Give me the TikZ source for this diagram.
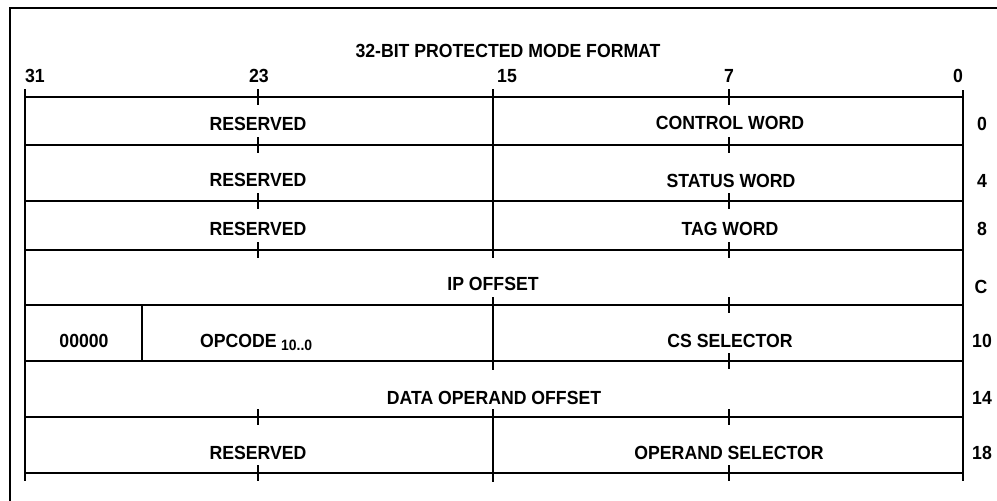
\documentclass[tikz,border=0pt]{standalone}
\usepackage{fontspec}
\setmainfont{Liberation Sans}[FakeStretch=0.93]
\begin{document}
\begin{tikzpicture}[x=1pt,y=-1pt,
  lbl/.style={font=\fontsize{19}{22}\selectfont\bfseries, inner sep=0pt, anchor=base},
  sublbl/.style={font=\fontsize{15}{18}\selectfont\bfseries, inner sep=0pt, anchor=base west},
  rule/.style={line width=2pt, line cap=rect},
  frame/.style={line width=2.6pt},
  mid/.style={line width=2.6pt},
  tick/.style={line width=2pt}]
\useasboundingbox (0,0) rectangle (997,501);
% outer frame
\coordinate (fbl) at (10,501);
\coordinate (ftl) at (10,8);
\coordinate (ftr) at (997,8);
\draw[frame] (fbl) -- (ftl) -- (ftr);
% horizontal rules
\foreach \n/\y in {r0/97,r1/145,r2/201,r3/250,r4/305,r5/361,r6/417,r7/473}{
  \coordinate (\n L) at (25,\y);
  \coordinate (\n R) at (963,\y);
  \draw[rule] (\n L) -- (\n R);
  \coordinate (\n a) at (258,\y-8);
  \coordinate (\n b) at (258,\y+8);
  \coordinate (\n c) at (729,\y-8);
  \coordinate (\n d) at (729,\y+8);
  \draw[tick] (\n c) -- (\n d);
}
\foreach \n in {r0,r1,r2,r3,r6,r7}{\draw[tick] (\n a) -- (\n b);}
% outer verticals of the table
\coordinate (lt) at (25,89); \coordinate (lb) at (25,481);
\coordinate (rt) at (963,90); \coordinate (rb) at (963,481);
\draw[mid] (lt) -- (lb);
\draw[mid] (rt) -- (rb);
% bit 15 divider
\coordinate (m0) at (493,89);  \coordinate (m1) at (493,258);
\coordinate (m2) at (493,297); \coordinate (m3) at (493,370);
\coordinate (m4) at (493,409); \coordinate (m5) at (493,482);
\draw[mid] (m0) -- (m1);
\draw[mid] (m2) -- (m3);
\draw[mid] (m4) -- (m5);
% opcode divider
\coordinate (o0) at (142,305); \coordinate (o1) at (142,361);
\draw[tick] (o0) -- (o1);
% title and bit numbers
\node[lbl] (title) at (508,57) {32-BIT PROTECTED MODE FORMAT};
\node[lbl] (b31) at (35,82) {31};
\node[lbl] (b23) at (259,82) {23};
\node[lbl] (b15) at (507,82) {15};
\node[lbl] (b7) at (729,82) {7};
\node[lbl] (b0) at (958,82) {0};
% fields
\node[lbl] (res0) at (258,130) {RESERVED};
\node[lbl] (cw) at (730,129) {CONTROL WORD};
\node[lbl] (res1) at (258,186) {RESERVED};
\node[lbl] (sw) at (731,187) {STATUS WORD};
\node[lbl] (res2) at (258,235) {RESERVED};
\node[lbl] (tw) at (730,235) {TAG WORD};
\node[lbl] (ip) at (493,290) {IP OFFSET};
\node[lbl] (zero) at (84,347) {00000};
\node[lbl, anchor=base west] (opc) at (200,347) {OPCODE};
\node[sublbl] (opcsub) at ([xshift=4pt,yshift=-3.5pt]opc.base east) {10..0};
\node[lbl] (cs) at (730,347) {CS SELECTOR};
\node[lbl] (dop) at (494,404) {DATA OPERAND OFFSET};
\node[lbl] (res3) at (258,459) {RESERVED};
\node[lbl] (os) at (729,459) {OPERAND SELECTOR};
% byte offsets
\node[lbl] (o00) at (982,130) {0};
\node[lbl] (o04) at (982,187) {4};
\node[lbl] (o08) at (982,235) {8};
\node[lbl] (o0C) at (981,293) {C};
\node[lbl] (o10) at (982,347) {10};
\node[lbl] (o14) at (982,404) {14};
\node[lbl] (o18) at (982,459) {18};
\end{tikzpicture}
\end{document}
